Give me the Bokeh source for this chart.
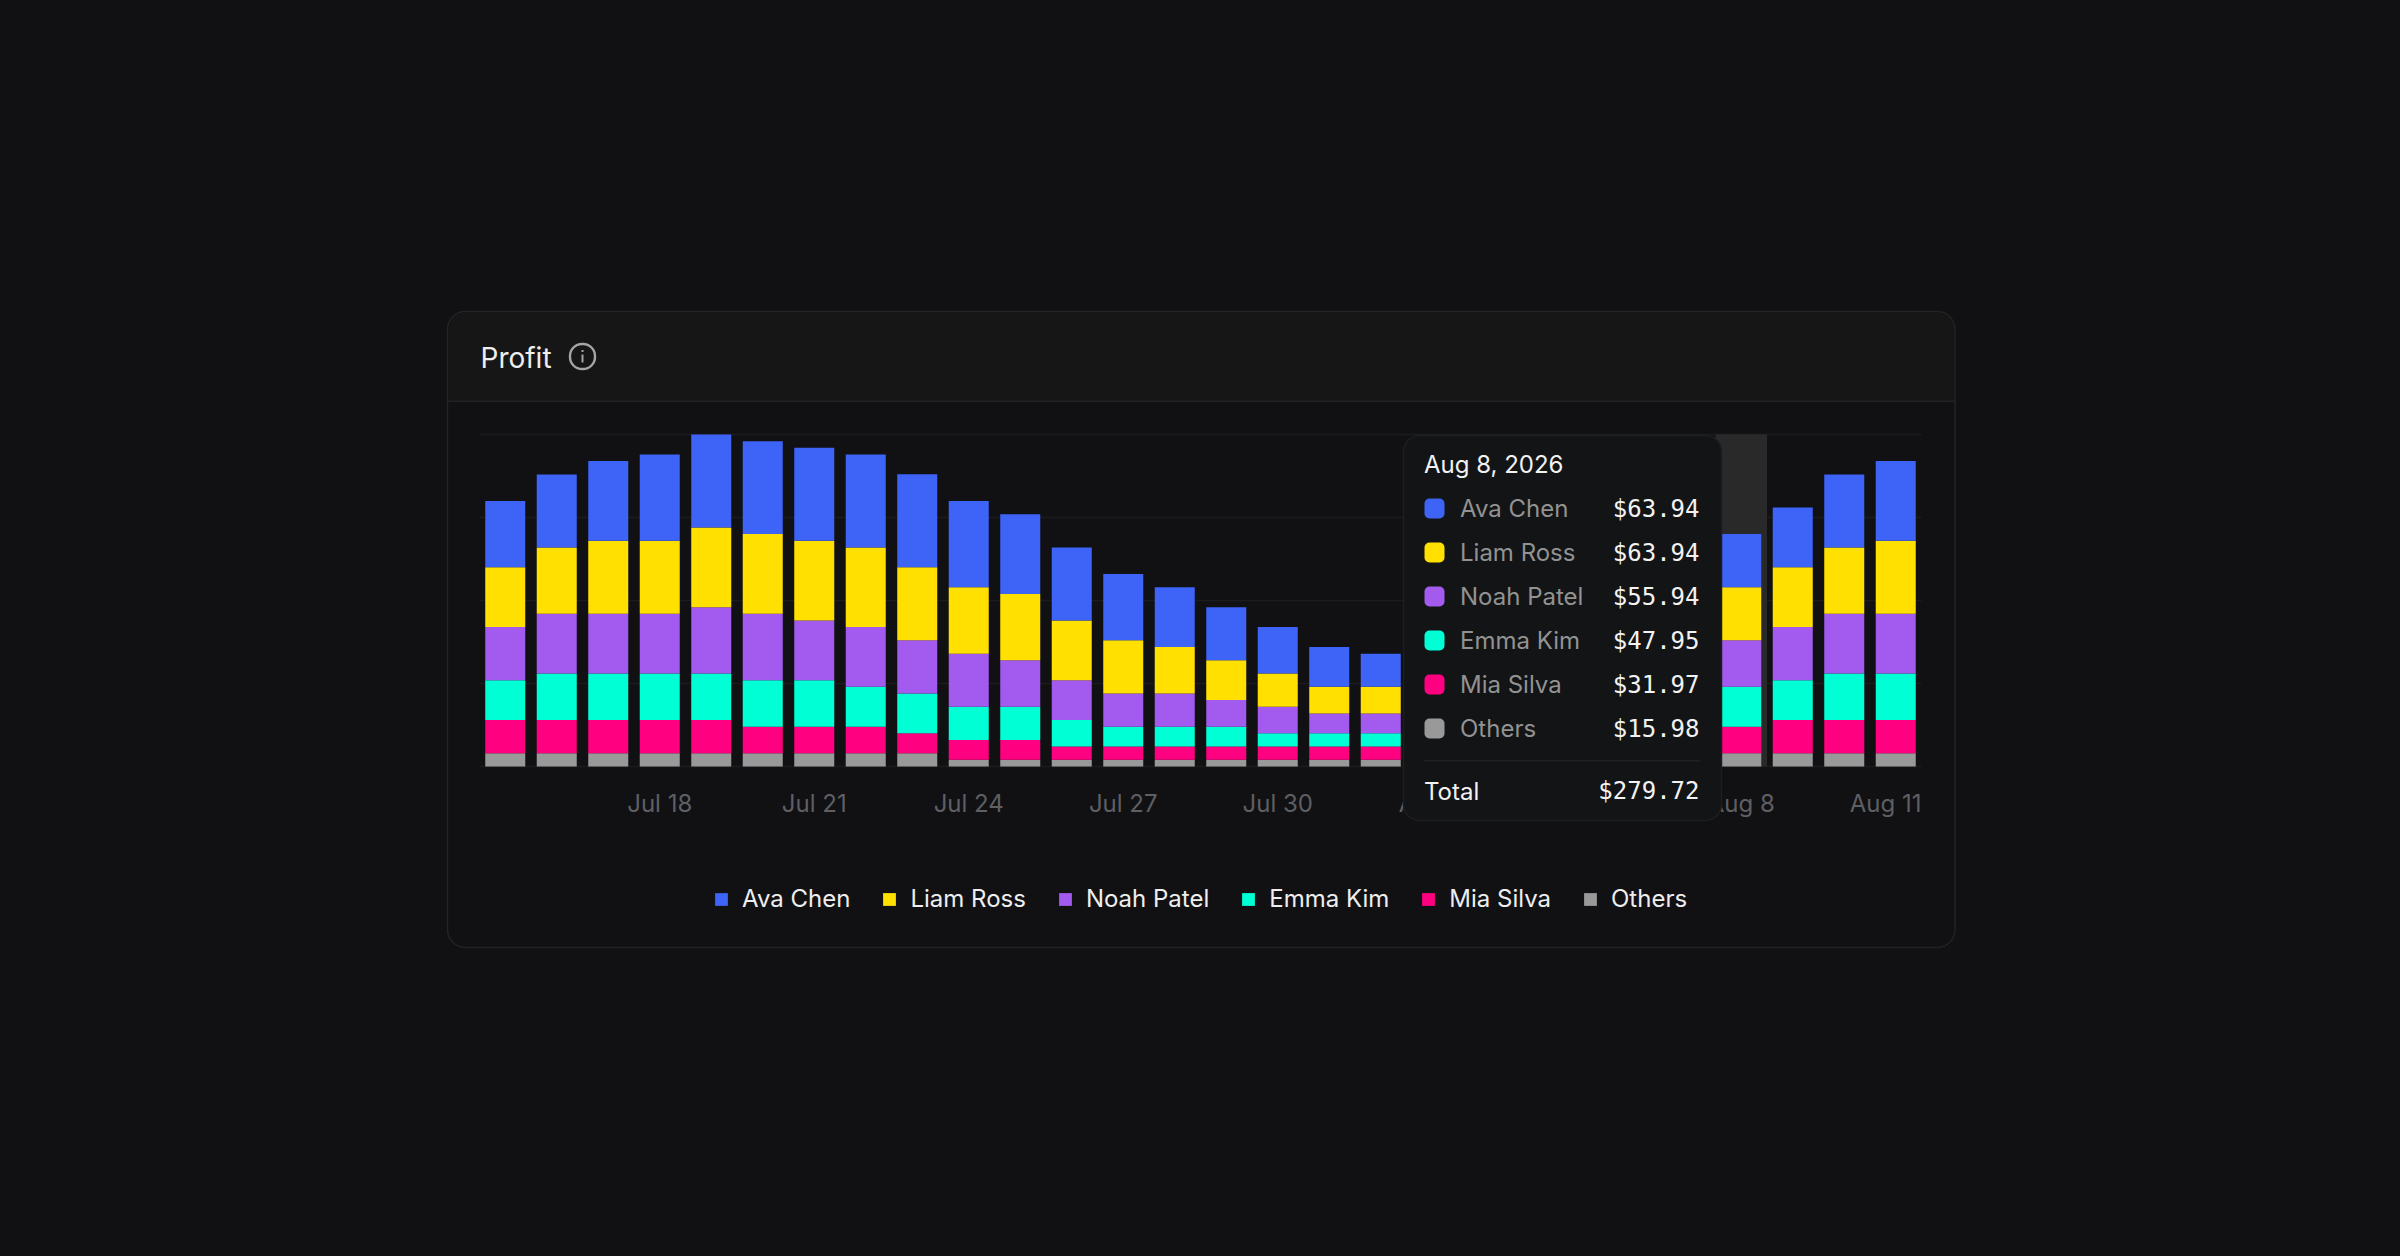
from bokeh.plotting import figure
from bokeh.embed import file_html
from bokeh.resources import INLINE
from bokeh.models import (BoxAnnotation, Label, Legend, LegendItem, FixedTicker, LinearAxis, Grid,
                          Range1d, ColumnDataSource)

# ---------- data ----------
dates = ["Jul 15","Jul 16","Jul 17","Jul 18","Jul 19","Jul 20","Jul 21","Jul 22","Jul 23","Jul 24",
         "Jul 25","Jul 26","Jul 27","Jul 28","Jul 29","Jul 30","Jul 31","Aug 1","Aug 2","Aug 3",
         "Aug 4","Aug 5","Aug 6","Aug 7","Aug 8","Aug 9","Aug 10","Aug 11"]
ava_chen = [79.92,87.91,95.91,103.90,111.89,111.89,111.89,111.89,111.89,103.90,95.91,87.91,79.92,71.93,
            63.94,55.94,47.95,39.96,39.96,39.96,47.95,55.94,55.94,63.94,63.94,71.93,87.91,95.91]
liam_ross = [71.93,79.92,87.91,87.91,95.91,95.91,95.91,95.91,87.91,79.92,79.92,71.93,63.94,55.94,
             47.95,39.96,31.97,31.97,31.97,39.96,39.96,47.95,47.95,55.94,63.94,71.93,79.92,87.91]
noah_patel = [63.94,71.93,71.93,71.93,79.92,79.92,71.93,71.93,63.94,63.94,55.94,47.95,39.96,39.96,
              31.97,31.97,23.98,23.98,23.98,23.98,31.97,31.97,39.96,47.95,55.94,63.94,71.93,71.93]
emma_kim = [47.95,55.94,55.94,55.94,55.94,55.94,55.94,47.95,47.95,39.96,39.96,31.97,23.98,23.98,
            23.98,15.98,15.98,15.98,15.98,23.98,23.98,23.98,31.97,39.96,47.95,47.95,55.94,55.94]
mia_silva = [39.96,39.96,39.96,39.96,39.96,31.97,31.97,31.97,23.98,23.98,23.98,15.98,15.98,15.98,
             15.98,15.98,15.98,15.98,15.98,15.98,15.98,15.98,23.98,23.98,31.97,39.96,39.96,39.96]
others = [15.98,15.98,15.98,15.98,15.98,15.98,15.98,15.98,15.98,7.99,7.99,7.99,7.99,7.99,
          7.99,7.99,7.99,7.99,7.99,7.99,7.99,15.98,15.98,15.98,15.98,15.98,15.98,15.98]
series_names = ["Ava Chen","Liam Ross","Noah Patel","Emma Kim","Mia Silva","Others"]
series_colors = ["#3D63F7","#FFE000","#A35AEE","#00FFD5","#FF0080","#999999"]
y_ticks = [0,100,200,300,400]
x_tick_labels = {3:"Jul 18",6:"Jul 21",9:"Jul 24",12:"Jul 27",15:"Jul 30",18:"Aug 2",21:"Aug 5",24:"Aug 8"}
last_tick_label = "Aug 11"
tooltip_date = "Aug 8, 2026"
tooltip_values = ["$63.94","$63.94","$55.94","$47.95","$31.97","$15.98"]
tooltip_total = "$279.72"
hover_index = 24
hover_top = 400

# ---------- page geometry ----------
PAGE_BG = "#111113"; CARD_BG = "#111113"; HEAD_BG = "#161617"; BORDER = "#232325"
PLOT_L, PLOT_R, PLOT_T, PLOT_B = 479, 1921, 433.7, 766
W, FRAME_H = 2400, 1100
FONT = "Inter"; MONO = "DejaVu Sans Mono"
TEXT_SHIFT = 8

# the frame starts at the page's top-left; the ranges are chosen so the plot area lands on PLOT_*
n = len(dates)
px_x = (PLOT_R - PLOT_L) / n
px_y = (PLOT_B - PLOT_T) / (y_ticks[-1] - y_ticks[0])
x_range = Range1d(-0.5 - PLOT_L / px_x, n - 0.5 + (W - PLOT_R) / px_x)
y_range = Range1d(-(FRAME_H - PLOT_B) / px_y, y_ticks[-1] + PLOT_T / px_y)

p = figure(frame_width=W, frame_height=FRAME_H, output_backend="svg", toolbar_location=None,
           x_range=x_range, y_range=y_range, x_axis_location=None, y_axis_location=None,
           min_border=0, background_fill_color=PAGE_BG, border_fill_color=PAGE_BG, outline_line_color=None)
p.grid.visible = False

sx = lambda px: px
sy = lambda py: FRAME_H - py

def box(l, t, r, b, fill, line=None, lw=1.5, radius=0, level="underlay"):
    bx = BoxAnnotation(left=sx(l), right=sx(r), top=sy(t), bottom=sy(b),
                       left_units="screen", right_units="screen", top_units="screen", bottom_units="screen",
                       fill_color=fill, fill_alpha=1 if fill else 0, line_color=line, line_width=lw,
                       line_alpha=1 if line else 0, border_radius=radius, level=level, editable=False)
    p.add_layout(bx)
    return bx

def text(t, x, y, color, size, align="left", font=FONT, level="overlay"):
    p.add_layout(Label(x=sx(x), y=sy(y - TEXT_SHIFT), x_units="screen", y_units="screen", text=t, text_color=color,
                       text_font=font, text_font_size=f"{size}px", text_align=align,
                       text_baseline="alphabetic", level=level))

# card
box(447, 311, 1954.5, 947, CARD_BG, BORDER, 1.5, 18)
box(448, 312, 1953.5, 400, HEAD_BG, None, 0, (17,17,0,0))
box(447, 400, 1954.5, 401.5, BORDER)
text("Profit", 480, 365, "#EEEEEE", 28, level="annotation")
box(569.5, 343.5, 594.5, 368.5, None, "#A5A5A5", 2.4, 12, level="annotation")
box(581, 354, 583, 362, "#A5A5A5", level="annotation")
box(581, 349.5, 583, 351.5, "#A5A5A5", level="annotation")

# grid
grid = Grid(dimension=1, ticker=FixedTicker(ticks=y_ticks), cross_bounds=(-0.5, n - 0.5),
            grid_line_color="#1C1C1F", grid_line_width=1.5, level="underlay")
p.add_layout(grid)

# bars
p.vbar(x=[hover_index], width=1, top=[hover_top], bottom=[y_ticks[0]], fill_color="#29292A", line_color=None)
x = list(range(n))
stack_order = ["others","mia_silva","emma_kim","noah_patel","liam_ross","ava_chen"]
src = ColumnDataSource(dict(x=x, ava_chen=ava_chen, liam_ross=liam_ross, noah_patel=noah_patel,
                            emma_kim=emma_kim, mia_silva=mia_silva, others=others))
rs = p.vbar_stack(stack_order, x="x", width=0.777, source=src, line_color=None,
                  color=list(reversed(series_colors)))
rs = list(reversed(rs))

# x axis, pinned at the value 0
ax = LinearAxis(fixed_location=y_ticks[0], ticker=FixedTicker(ticks=list(x_tick_labels.keys())),
                major_label_overrides=x_tick_labels, axis_line_color=None,
                major_tick_line_color=None, minor_tick_line_color=None,
                major_tick_in=0, major_tick_out=0, major_label_standoff=22,
                major_label_text_font=FONT, major_label_text_font_size="24px",
                major_label_text_color="#5E5F63")
p.add_layout(ax, "below")
text(last_tick_label, PLOT_R, 811, "#5E5F63", 24, "right", level="guide")

# legend
legend = Legend(items=[LegendItem(label=nm, renderers=[r]) for nm, r in zip(series_names, rs)],
                orientation="horizontal", location=(713, FRAME_H-913), padding=0, margin=0,
                spacing=31, label_standoff=13, glyph_width=16, glyph_height=16,
                border_line_color=None, background_fill_color=None, background_fill_alpha=0,
                label_text_color="#EEEEEE", label_text_font=FONT, label_text_font_size="24px")
p.add_layout(legend)

# tooltip
box(1403, 435, 1721, 820, "#131416", "#1D1E21", 1.5, 16, level="overlay")
text(tooltip_date, 1423.5, 471.7, "#F2F2F2", 24)
row_y = [508, 552, 596, 640, 684, 728]
for name, color, val, cy in zip(series_names, series_colors, tooltip_values, row_y):
    box(1424, cy-10, 1444, cy+10, color, radius=5, level="overlay")
    text(name, 1459.5, cy+8, "#929292", 24)
    text(val, 1699, cy+8, "#F2F2F2", 24, "right", MONO)
box(1424, 759.5, 1700, 761, "#1F2023", level="overlay")
text("Total", 1423.5, 798.5, "#F2F2F2", 24)
text(tooltip_total, 1699, 798.5, "#F2F2F2", 24, "right", MONO)

html = file_html(p, INLINE)
html = html.replace("<body>", f'<body style="background:{PAGE_BG}">')
open("out.html", "w").write(html)
